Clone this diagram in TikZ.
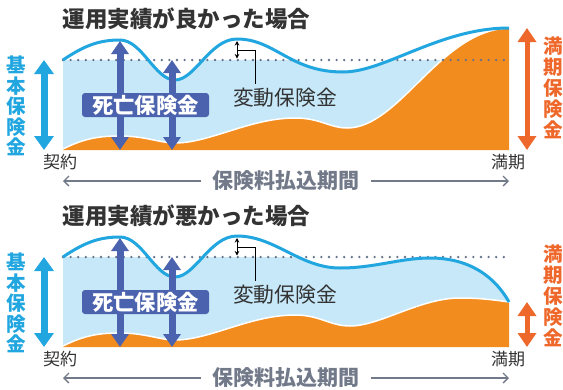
\documentclass[tikz,border=0pt]{standalone}
\usepackage{fontspec}
\setmainfont{Noto Sans CJK JP}
\usetikzlibrary{arrows.meta}
\definecolor{cyanB}{HTML}{22A6E0}
\definecolor{lblue}{HTML}{C6E8F8}
\definecolor{orng}{HTML}{F38C1F}
\definecolor{redor}{HTML}{EF682B}
\definecolor{deathB}{HTML}{4B63AE}
\definecolor{dotcol}{HTML}{65728A}
\definecolor{grayT}{HTML}{727A8A}
\definecolor{darkT}{HTML}{333333}
\tikzset{
  titletext/.style={text=darkT, inner sep=0pt, font={\fontsize{22.5}{23}\selectfont\bfseries}},
  lefttext/.style={text=cyanB, inner sep=0pt, align=center, font={\fontsize{19.5}{20.5}\selectfont\bfseries}},
  righttext/.style={text=redor, inner sep=0pt, align=center, font={\fontsize{19.5}{21}\selectfont\bfseries}},
  endtext/.style={text=darkT, inner sep=0pt, font={\fontsize{17}{17}\selectfont}},
  hendotext/.style={text=darkT, inner sep=0pt, font={\fontsize{20.8}{21}\selectfont}},
  periodtext/.style={text=grayT, inner xsep=11pt, inner ysep=0pt, font={\fontsize{21}{21}\selectfont\bfseries}},
  deathbox/.style={fill=deathB, text=white, rounded corners=3pt, inner sep=0pt, minimum width=127pt, minimum height=24pt, font={\fontsize{21.3}{22}\selectfont\bfseries}},
  cyanarrow/.style={cyanB, line width=7pt, {Triangle[width=19pt,length=14pt]}-{Triangle[width=19pt,length=14pt]}},
  deatharrow/.style={deathB, line width=7pt, {Triangle[width=17pt,length=13pt]}-{Triangle[width=17pt,length=13pt]}},
  redarrow/.style={redor, line width=5pt, {Triangle[width=18pt,length=14pt]}-{Triangle[width=18pt,length=14pt]}},
  smallarrow/.style={black, line width=0.9pt, {Stealth[width=4.5pt,length=4.5pt]}-{Stealth[width=4.5pt,length=4.5pt]}},
  leader/.style={black, line width=0.9pt},
  grayarrow/.style={grayT, line width=1.3pt, -{Straight Barb[length=5pt,width=10pt]}},
  dotline/.style={dotcol, line width=2.6pt, line cap=round, dash pattern=on 0pt off 7.6pt},
  bcurve/.style={cyanB, line width=3pt},
}
% #1 title, #2 blue curve, #3 orange curve, #4 red arrow top y, #5 red label y, #6 prefix
\newcommand{\mypanel}[6]{%
  \node[titletext] (#6title) at (186.5,19) {#1};
  \begin{scope}
    \clip (63,60) #2 -- (509,150) -- (63,150) -- cycle;
    \fill[lblue] (63,60) rectangle (509,150);
  \end{scope}
  \fill[orng] (63,150) -- (63,149) #3 -- (509,150) -- cycle;
  \draw[white, line width=1.5pt] (63,149) #3;
  \draw[dotline] (63,60) -- (511,60);
  \draw[bcurve] (63,60) #2;
  % left
  \coordinate (#6k1) at (44,60);
  \coordinate (#6k2) at (44,150);
  \draw[cyanarrow] (#6k1) -- (#6k2);
  \node[lefttext] (#6kihon) at (16,106) {基\\本\\保\\険\\金};
  % death
  \coordinate (#6d1a) at (120,41);
  \coordinate (#6d1b) at (120,150);
  \coordinate (#6d2a) at (172,60);
  \coordinate (#6d2b) at (172,150);
  \draw[deatharrow] (#6d1a) -- (#6d1b);
  \draw[deatharrow] (#6d2a) -- (#6d2b);
  \node[deathbox] (#6dbox) at (145.5,105) {死亡保険金};
  % hendo
  \coordinate (#6h1) at (237,41);
  \coordinate (#6h2) at (237,58.5);
  \draw[smallarrow] (#6h1) -- (#6h2);
  \coordinate (#6hl) at (237,50);
  \coordinate (#6hl2) at (255,84);
  \draw[leader] (#6hl) -| (#6hl2);
  \node[hendotext] (#6hendo) at (285,98) {変動保険金};
  % ends
  \node[endtext] (#6start) at (60,162) {契約};
  \node[endtext] (#6end) at (508,162) {満期};
  \node[periodtext] (#6period) at (286,181) {保険料払込期間};
  \coordinate (#6pl) at (63,181);
  \coordinate (#6pr) at (509,181);
  \draw[grayarrow] (#6period.west) -- (#6pl);
  \draw[grayarrow] (#6period.east) -- (#6pr);
  % right
  \coordinate (#6m1) at (527,#4);
  \coordinate (#6m2) at (527,150);
  \draw[redarrow] (#6m1) -- (#6m2);
  \node[righttext] (#6manki) at (553,#5) {満\\期\\保\\険\\金};
}
\begin{document}
\begin{tikzpicture}[x=1pt,y=-1pt]
\useasboundingbox (0,0) rectangle (563,389);
\mypanel{運用実績が良かった場合}%
{.. controls (85,45) and (100,40) .. (120,40) .. controls (142,40) and (155,80) .. (175,80) .. controls (195,80) and (210,39) .. (237,39) .. controls (275,39) and (290,72) .. (343,72) .. controls (385,72) and (440,28) .. (509,28)}%
{.. controls (85,138) and (100,136) .. (120,136) .. controls (145,136) and (160,143) .. (175,143) .. controls (210,143) and (250,118) .. (295,118) .. controls (320,118) and (330,128) .. (347,128) .. controls (400,128) and (440,30) .. (509,28)}%
{28}{87.5}{t}
\begin{scope}[shift={(0,197)}]
\mypanel{運用実績が悪かった場合}%
{.. controls (85,45) and (100,40) .. (120,40) .. controls (142,40) and (155,80) .. (175,80) .. controls (195,80) and (210,39) .. (237,39) .. controls (275,39) and (300,71) .. (340,71) .. controls (375,71) and (400,61) .. (430,61) .. controls (470,61) and (495,80) .. (509,105)}%
{.. controls (85,138) and (100,136) .. (120,136) .. controls (145,136) and (160,143) .. (175,143) .. controls (210,143) and (250,118) .. (295,118) .. controls (320,118) and (330,129) .. (350,129) .. controls (380,129) and (420,101) .. (460,101) .. controls (480,101) and (495,103) .. (509,105)}%
{105}{99}{b}
\end{scope}
\end{tikzpicture}
\end{document}
